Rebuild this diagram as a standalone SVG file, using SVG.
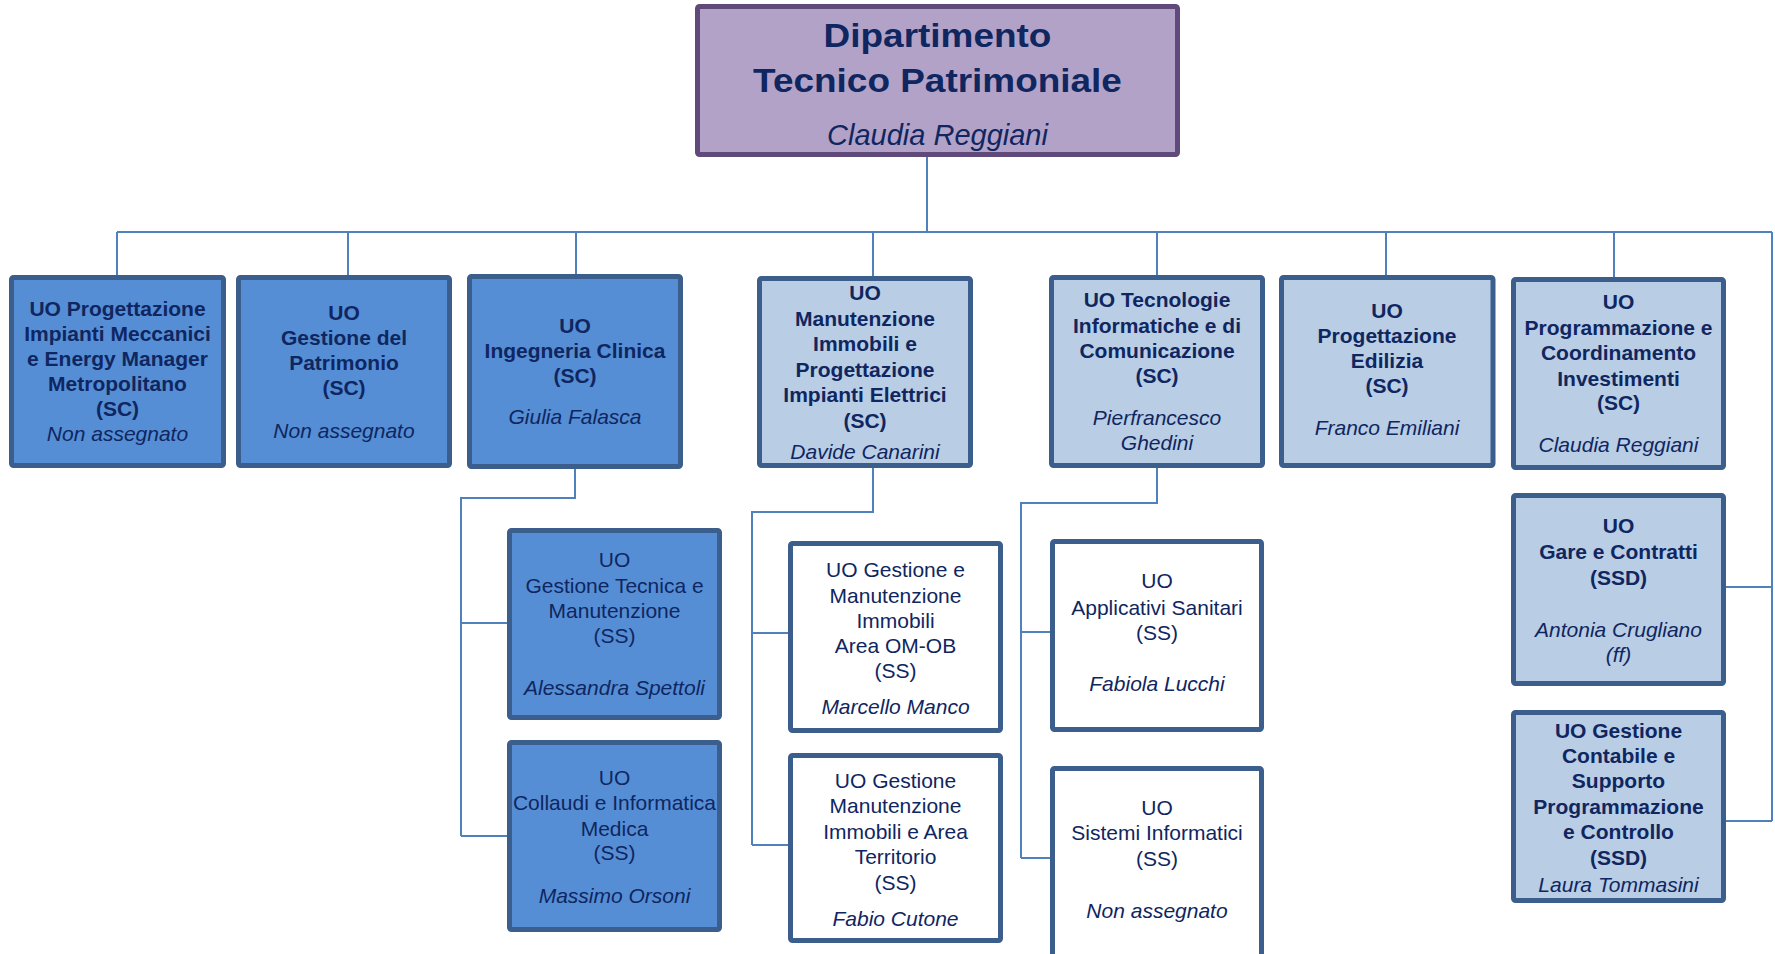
<svg xmlns="http://www.w3.org/2000/svg" width="1775" height="954" viewBox="0 0 1775 954">
<style>
.box{stroke:#3b5e8c;stroke-width:5}
.dk{fill:#558ed5}
.lt{fill:#b9cde5}
.wh{fill:#ffffff}
text{font-family:"Liberation Sans",Arial,sans-serif;font-size:21px;fill:#0f2660;text-anchor:middle}
.b{font-weight:bold}
.i{font-style:italic}
.conn{fill:none;stroke:#4f81bd;stroke-width:2}
</style>
<rect width="1775" height="954" fill="#ffffff"/>
<g id="connectors" class="conn">
<path d="M927,157V232M117,232H1772M117,232V275M348,232V275M576,232V274M873,232V276M1157,232V275M1386,232V276M1614,232V277"/>
<path d="M1772,232V821M1726,587H1772M1726,821H1772"/>
<path d="M575,469V498H461V836M461,623H507M461,836H507"/>
<path d="M873,468V512H752V845M752,633H788M752,845H788"/>
<path d="M1157,468V503H1021V858M1021,632H1050M1021,858H1050"/>
</g>
<g id="top">
<rect x="697.5" y="6.5" width="480" height="148" rx="2" fill="#b3a2c7" stroke="#604a7b" stroke-width="5"/>
<text class="b" style="font-size:33px" transform="translate(937.5,47) scale(1.12,1)" x="0" y="0">Dipartimento</text>
<text class="b" style="font-size:33px" transform="translate(937.5,92) scale(1.12,1)" x="0" y="0">Tecnico Patrimoniale</text>
<text class="i" style="font-size:29px" x="937.5" y="145">Claudia Reggiani</text>
</g>
<g id="n1">
<rect class="box dk" x="11.5" y="277.5" width="212" height="188" rx="2"/>
<text class="b" x="117.5" y="316">UO Progettazione</text>
<text class="b" x="117.5" y="341">Impianti Meccanici</text>
<text class="b" x="117.5" y="366">e Energy Manager</text>
<text class="b" x="117.5" y="391">Metropolitano</text>
<text class="b" x="117.5" y="416">(SC)</text>
<text class="i" x="117.5" y="441">Non assegnato</text>
</g>
<g id="n2">
<rect class="box dk" x="238.5" y="277.5" width="211" height="188" rx="2"/>
<text class="b" x="344" y="320">UO</text>
<text class="b" x="344" y="345">Gestione del</text>
<text class="b" x="344" y="370">Patrimonio</text>
<text class="b" x="344" y="395">(SC)</text>
<text class="i" x="344" y="438">Non assegnato</text>
</g>
<g id="n3">
<rect class="box dk" x="469.5" y="276.5" width="211" height="190" rx="2"/>
<text class="b" x="575" y="333">UO</text>
<text class="b" x="575" y="358">Ingegneria Clinica</text>
<text class="b" x="575" y="383">(SC)</text>
<text class="i" x="575" y="424">Giulia Falasca</text>
</g>
<g id="n4">
<rect class="box lt" x="759.5" y="278.5" width="211" height="187" rx="2"/>
<text class="b" x="865" y="300">UO</text>
<text class="b" x="865" y="325.5">Manutenzione</text>
<text class="b" x="865" y="351">Immobili e</text>
<text class="b" x="865" y="376.5">Progettazione</text>
<text class="b" x="865" y="402">Impianti Elettrici</text>
<text class="b" x="865" y="427.5">(SC)</text>
<text class="i" x="865" y="459">Davide Canarini</text>
</g>
<g id="n5">
<rect class="box lt" x="1051.5" y="277.5" width="211" height="188" rx="2"/>
<text class="b" x="1157" y="307">UO Tecnologie</text>
<text class="b" x="1157" y="333">Informatiche e di</text>
<text class="b" x="1157" y="358">Comunicazione</text>
<text class="b" x="1157" y="383">(SC)</text>
<text class="i" x="1157" y="425">Pierfrancesco</text>
<text class="i" x="1157" y="450">Ghedini</text>
</g>
<g id="n6">
<rect class="box lt" x="1281.5" y="277.5" width="211.5" height="188" rx="2"/>
<text class="b" x="1387" y="318">UO</text>
<text class="b" x="1387" y="343">Progettazione</text>
<text class="b" x="1387" y="368">Edilizia</text>
<text class="b" x="1387" y="393">(SC)</text>
<text class="i" x="1387" y="435">Franco Emiliani</text>
</g>
<g id="n7">
<rect class="box lt" x="1513.5" y="279.5" width="210" height="188" rx="2"/>
<text class="b" x="1618.5" y="309">UO</text>
<text class="b" x="1618.5" y="335">Programmazione e</text>
<text class="b" x="1618.5" y="360">Coordinamento</text>
<text class="b" x="1618.5" y="386">Investimenti</text>
<text class="b" x="1618.5" y="410">(SC)</text>
<text class="i" x="1618.5" y="452">Claudia Reggiani</text>
</g>
<g id="n3a">
<rect class="box dk" x="509.5" y="530.5" width="210" height="187" rx="2"/>
<text x="614.5" y="567">UO</text>
<text x="614.5" y="593">Gestione Tecnica e</text>
<text x="614.5" y="618">Manutenzione</text>
<text x="614.5" y="643">(SS)</text>
<text class="i" x="614.5" y="695">Alessandra Spettoli</text>
</g>
<g id="n3b">
<rect class="box dk" x="509.5" y="742.5" width="210" height="187" rx="2"/>
<text x="614.5" y="785">UO</text>
<text x="614.5" y="810">Collaudi e Informatica</text>
<text x="614.5" y="836">Medica</text>
<text x="614.5" y="860">(SS)</text>
<text class="i" x="614.5" y="903">Massimo Orsoni</text>
</g>
<g id="n4a">
<rect class="box wh" x="790.5" y="543.5" width="210" height="187" rx="2"/>
<text x="895.5" y="577">UO Gestione e</text>
<text x="895.5" y="603">Manutenzione</text>
<text x="895.5" y="628">Immobili</text>
<text x="895.5" y="653">Area OM-OB</text>
<text x="895.5" y="678">(SS)</text>
<text class="i" x="895.5" y="714">Marcello Manco</text>
</g>
<g id="n4b">
<rect class="box wh" x="790.5" y="755.5" width="210" height="185" rx="2"/>
<text x="895.5" y="788">UO Gestione</text>
<text x="895.5" y="813">Manutenzione</text>
<text x="895.5" y="839">Immobili e Area</text>
<text x="895.5" y="864">Territorio</text>
<text x="895.5" y="890">(SS)</text>
<text class="i" x="895.5" y="926">Fabio Cutone</text>
</g>
<g id="n5a">
<rect class="box wh" x="1052.5" y="541.5" width="209" height="188" rx="2"/>
<text x="1157" y="588">UO</text>
<text x="1157" y="615">Applicativi Sanitari</text>
<text x="1157" y="640">(SS)</text>
<text class="i" x="1157" y="691">Fabiola Lucchi</text>
</g>
<g id="n5b">
<rect class="box wh" x="1052.5" y="768.5" width="209" height="200" rx="2"/>
<text x="1157" y="815">UO</text>
<text x="1157" y="840">Sistemi Informatici</text>
<text x="1157" y="866">(SS)</text>
<text class="i" x="1157" y="918">Non assegnato</text>
</g>
<g id="n7a">
<rect class="box lt" x="1513.5" y="495.5" width="210" height="188" rx="2"/>
<text class="b" x="1618.5" y="533">UO</text>
<text class="b" x="1618.5" y="559">Gare e Contratti</text>
<text class="b" x="1618.5" y="585">(SSD)</text>
<text class="i" x="1618.5" y="637">Antonia Crugliano</text>
<text class="i" x="1618.5" y="662">(ff)</text>
</g>
<g id="n7b">
<rect class="box lt" x="1513.5" y="712.5" width="210" height="188" rx="2"/>
<text class="b" x="1618.5" y="738">UO Gestione</text>
<text class="b" x="1618.5" y="763">Contabile e</text>
<text class="b" x="1618.5" y="788">Supporto</text>
<text class="b" x="1618.5" y="814">Programmazione</text>
<text class="b" x="1618.5" y="839">e Controllo</text>
<text class="b" x="1618.5" y="865">(SSD)</text>
<text class="i" x="1618.5" y="892">Laura Tommasini</text>
</g>
</svg>
